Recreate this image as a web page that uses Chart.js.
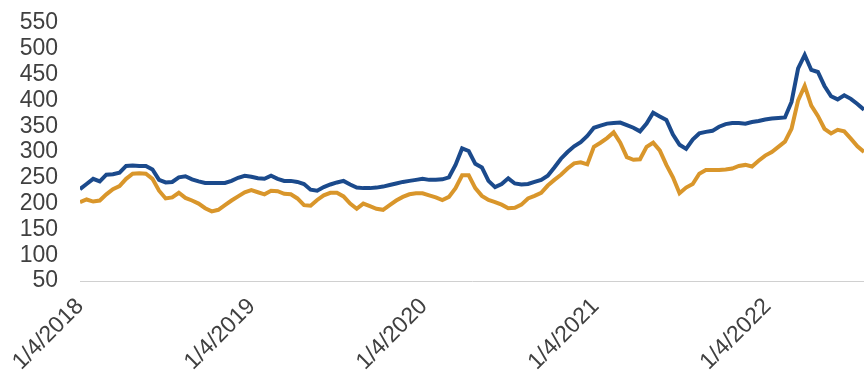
<!DOCTYPE html>
<html>
<head>
    <title>Price Index Comparison</title>
    <script src="https://cdn.jsdelivr.net/npm/chart.js@4/dist/chart.umd.min.js"></script>
    <style>
        body {
            margin: 0;
            background: white;
        }
        .chart-wrapper {
            width: 864px;
            height: 378px;
            position: relative;
        }
    </style>
</head>
<body>
    <div class="chart-wrapper">
        <canvas id="priceChart"></canvas>
    </div>

    <script>
        // Bi-weekly observations starting 1/4/2018
        const startYear = 2018;
        const stepDays = 14;
        const yearTicks = [2018, 2019, 2020, 2021, 2022];

        // Upper series (blue)
        const blueSeries = [
            228, 238, 248, 243, 256, 257, 260, 273, 274, 273,
            273, 266, 246, 241, 242, 251, 253, 247, 243, 240,
            240, 240, 240, 244, 250, 254, 252, 249, 248, 254,
            248, 244, 244, 242, 238, 227, 225, 232, 237, 241,
            244, 237, 231, 230, 230, 231, 233, 236, 239, 242,
            244, 246, 248, 246, 246, 247, 251, 275, 307, 302,
            277, 270, 244, 232, 238, 249, 239, 237, 238, 242,
            246, 254, 270, 287, 300, 311, 319, 331, 347, 351,
            355, 356, 357, 352, 347, 340, 355, 376, 369, 362,
            334, 314, 306, 324, 336, 339, 341, 349, 354, 356,
            356, 355, 358, 360, 363, 365, 366, 367, 397, 462,
            488, 459, 455, 428, 408, 402, 410, 403, 393, 382
        ];

        // Lower series (orange)
        const orangeSeries = [
            203, 208, 204, 206, 218, 228, 234, 248, 258, 259,
            258, 248, 225, 210, 212, 221, 211, 206, 200, 191,
            185, 188, 197, 206, 214, 222, 226, 222, 218, 225,
            224, 219, 218, 210, 197, 196, 207, 216, 221, 221,
            214, 200, 190, 200, 195, 190, 188, 197, 206, 213,
            218, 220, 220, 216, 212, 207, 213, 230, 255, 255,
            230, 215, 207, 203, 198, 191, 192, 198, 210, 215,
            221, 235, 246, 256, 268, 278, 280, 276, 310, 318,
            327, 338, 318, 290, 285, 286, 310, 318, 303, 275,
            251, 220, 231, 238, 258, 265, 265, 265, 266, 268,
            273, 275, 272, 283, 293, 300, 310, 320, 345, 400,
            428, 390, 370, 345, 336, 343, 340, 326, 311, 300
        ];

        const yTicks = [50, 100, 150, 200, 250, 300, 350, 400, 450, 500, 550];

        // x position in fractional years
        const toYear = i => startYear + i * stepDays / 365.25;
        const lastX = toYear(blueSeries.length - 1);

        new Chart(document.getElementById('priceChart'), {
            type: 'line',
            data: {
                datasets: [
                    {
                        label: 'Blue',
                        data: blueSeries.map((v, i) => ({ x: toYear(i), y: v })),
                        borderColor: '#1B4A8C',
                        borderWidth: 4,
                        pointRadius: 0,
                        tension: 0
                    },
                    {
                        label: 'Orange',
                        data: orangeSeries.map((v, i) => ({ x: toYear(i), y: v })),
                        borderColor: '#D9962B',
                        borderWidth: 4,
                        pointRadius: 0,
                        tension: 0
                    }
                ]
            },
            options: {
                responsive: true,
                maintainAspectRatio: false,
                animation: false,
                layout: {
                    padding: { top: 23, right: 0, left: 0, bottom: 0 }
                },
                plugins: {
                    legend: { display: false },
                    tooltip: { enabled: false }
                },
                scales: {
                    x: {
                        type: 'linear',
                        min: startYear,
                        max: lastX,
                        grid: { display: false, drawTicks: false },
                        border: { display: true, color: '#d0d0d0', width: 1 },
                        afterBuildTicks: axis => {
                            axis.ticks = yearTicks.map(v => ({ value: v }));
                        },
                        afterFit: axis => {
                            axis.paddingLeft = 0;
                            axis.paddingRight = 0;
                            axis.height = 97;
                        },
                        ticks: {
                            autoSkip: false,
                            minRotation: 45,
                            maxRotation: 45,
                            padding: 12,
                            color: '#404040',
                            font: { family: 'Arial, "Liberation Sans", sans-serif', size: 23 },
                            callback: v => '1/4/' + v
                        }
                    },
                    y: {
                        min: 50,
                        max: 550,
                        grid: { display: false, drawTicks: false },
                        border: { display: false },
                        afterBuildTicks: axis => {
                            axis.ticks = yTicks.map(v => ({ value: v }));
                        },
                        afterFit: axis => {
                            axis.width = 80;
                            axis.paddingTop = 0;
                            axis.paddingBottom = 0;
                        },
                        ticks: {
                            autoSkip: false,
                            padding: 22,
                            color: '#404040',
                            font: { family: 'Arial, "Liberation Sans", sans-serif', size: 23 }
                        }
                    }
                }
            }
        });
    </script>
</body>
</html>
